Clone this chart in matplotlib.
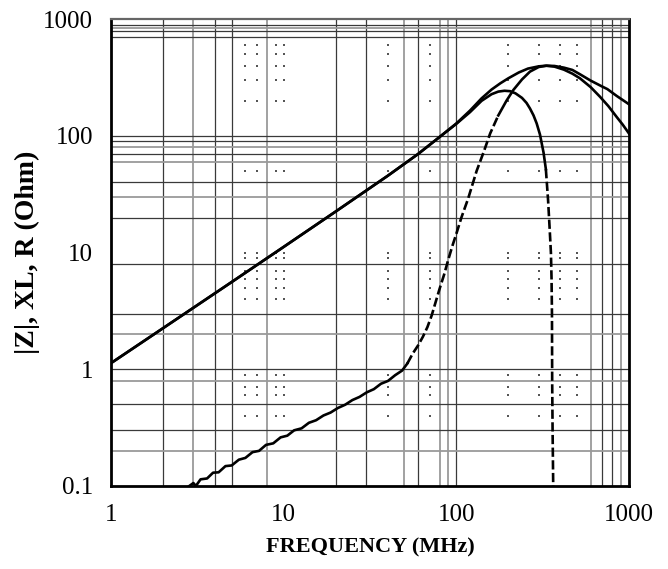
import numpy as np
import matplotlib
matplotlib.use("Agg")
import matplotlib.pyplot as plt

# |Z| curve (MHz, Ohm)
z_freq = [1, 2, 5, 10, 20, 40, 60, 80, 100, 120, 140, 160, 180, 200, 230, 260,
          300, 330, 370, 420, 470, 520, 600, 700, 750, 850, 1000]
z_vals = [1.13, 2.25, 5.6, 11.2, 22.5, 45.5, 70, 98, 128, 165, 210, 250, 283, 312, 350, 378,
          395, 400, 398, 385, 368, 338, 298, 265, 252, 220, 187]

# XL curve
xl_freq = [1, 2, 5, 10, 20, 40, 60, 80, 100, 120, 140, 160, 175, 190, 205, 220, 240,
           255, 267, 280, 292, 305, 320, 330, 340, 348, 353, 356, 358, 359, 361, 364]
xl_vals = [1.13, 2.25, 5.6, 11.2, 22.5, 45.5, 70, 98, 127, 160, 200, 228, 240, 244, 242,
           232, 212, 192, 172, 150, 128, 103, 72, 52, 28, 15, 10, 6, 3, 0.8, 0.3, 0.1]

# R curve
r_freq = [2.84, 3.0, 3.1, 3.3, 3.6, 3.9, 4.2, 4.6, 5.0, 5.5, 6.0, 6.6, 7.2, 7.9, 8.7,
          9.6, 10.5, 11.5, 12.7, 14.0, 15.4, 17.0, 18.7, 20.6, 22.7, 25.0, 27.5, 30.3,
          33.3, 36.6, 40.2, 44.2, 48.5, 52, 56, 60, 64, 68, 72, 76, 80, 85, 90, 95, 100,
          107, 117, 131, 145, 157, 175, 195, 214, 240, 267, 300, 333, 370, 420, 470,
          520, 600, 679, 760, 847, 920, 1000]
r_vals = [0.100, 0.106, 0.100, 0.114, 0.116, 0.130, 0.131, 0.148, 0.150, 0.168, 0.174,
          0.195, 0.200, 0.225, 0.232, 0.261, 0.270, 0.300, 0.312, 0.348, 0.366, 0.402,
          0.426, 0.466, 0.497, 0.545, 0.580, 0.635, 0.676, 0.752, 0.795, 0.890, 0.975,
          1.12, 1.37, 1.6, 1.9, 2.3, 2.9, 3.8, 4.9, 6.5, 8.8, 11.5, 14.5, 20, 29, 50, 75,
          105, 150, 200, 248, 305, 356, 390, 400, 393, 370, 342, 312, 262, 217, 180, 146,
          125, 105]

# leftover grid of the scanned sheet
vgrid_dark = [2, 4, 5, 20, 30, 60, 100, 700, 800]
vgrid_light = [3, 8, 50, 80, 90, 600, 900]
hgrid_dark = [900, 800, 700, 100, 90, 70, 40, 20, 8, 3, 1, 0.5, 0.3]
hgrid_light = [850, 80, 60, 30, 2, 0.8, 0.2]
dot_x = [6, 7, 9, 10, 40, 70, 200, 300, 400, 500]
dot_y = [1000, 600, 500, 400, 300, 200, 50, 10, 9, 7, 6, 5, 4, 0.9, 0.7, 0.6, 0.4]

plt.rcParams['font.family'] = ['Liberation Serif', 'DejaVu Serif']

fig = plt.figure(figsize=(6.68, 5.69), dpi=100)
ax = fig.add_axes([0.1662, 0.1459, 0.7754, 0.8202])
ax.set_xscale('log')
ax.set_yscale('log')
ax.set_xlim(1, 1000)
ax.set_ylim(0.1, 1000)

for v in vgrid_dark:
    ax.axvline(v, color='#3a3a3a', lw=0.9, zorder=1)
for v in vgrid_light:
    ax.axvline(v, color='#9a9a9a', lw=1.3, zorder=1)
for h in hgrid_dark:
    ax.axhline(h, color='#3a3a3a', lw=0.9, zorder=1)
for h in hgrid_light:
    ax.axhline(h, color='#9a9a9a', lw=1.3, zorder=1)

dx, dy = np.meshgrid(dot_x, dot_y)
ax.scatter(dx.ravel(), dy.ravel(), s=1.2, marker='s', color='#555555', linewidths=0, zorder=1)

lw = 1.9
dash = (0, (3.5, 1.3))

ax.plot(z_freq, z_vals, color='black', lw=lw, zorder=3)

xf = np.array(xl_freq)
xv = np.array(xl_vals)
m1 = xf <= 330
m2 = xf >= 330
ax.plot(xf[m1], xv[m1], color='black', lw=lw, zorder=3)
ax.plot(xf[m2], xv[m2], color='black', lw=lw, ls=dash, zorder=3)

rf = np.array(r_freq)
rv = np.array(r_vals)
s1 = rf <= 52
s2 = (rf >= 52) & (rf <= 175)
s3 = rf >= 175
ax.plot(rf[s1], rv[s1], color='black', lw=lw, zorder=3)
ax.plot(rf[s2], rv[s2], color='black', lw=lw, ls=dash, zorder=3)
ax.plot(rf[s3], rv[s3], color='black', lw=lw, zorder=3)

ax.set_xticks([1, 10, 100, 1000])
ax.set_xticklabels(['1', '10', '100', '1000'])
ax.set_yticks([0.1, 1, 10, 100, 1000])
ax.set_yticklabels(['0.1', '1', '10', '100', '1000'])
ax.minorticks_off()
ax.tick_params(axis='both', length=0, labelsize=18)
ax.tick_params(axis='x', pad=13)
ax.tick_params(axis='y', pad=13)

for side in ['left', 'bottom', 'right']:
    ax.spines[side].set_linewidth(2)
    ax.spines[side].set_color('black')
ax.spines['top'].set_linewidth(1.6)
ax.spines['top'].set_color('#666666')

ax.set_xlabel('FREQUENCY (MHz)', fontsize=16, fontweight='bold', labelpad=8)
ax.set_ylabel('|Z|, XL, R (Ohm)', fontsize=20, fontweight='bold', labelpad=2)

fig.savefig('out.png', dpi=100)
